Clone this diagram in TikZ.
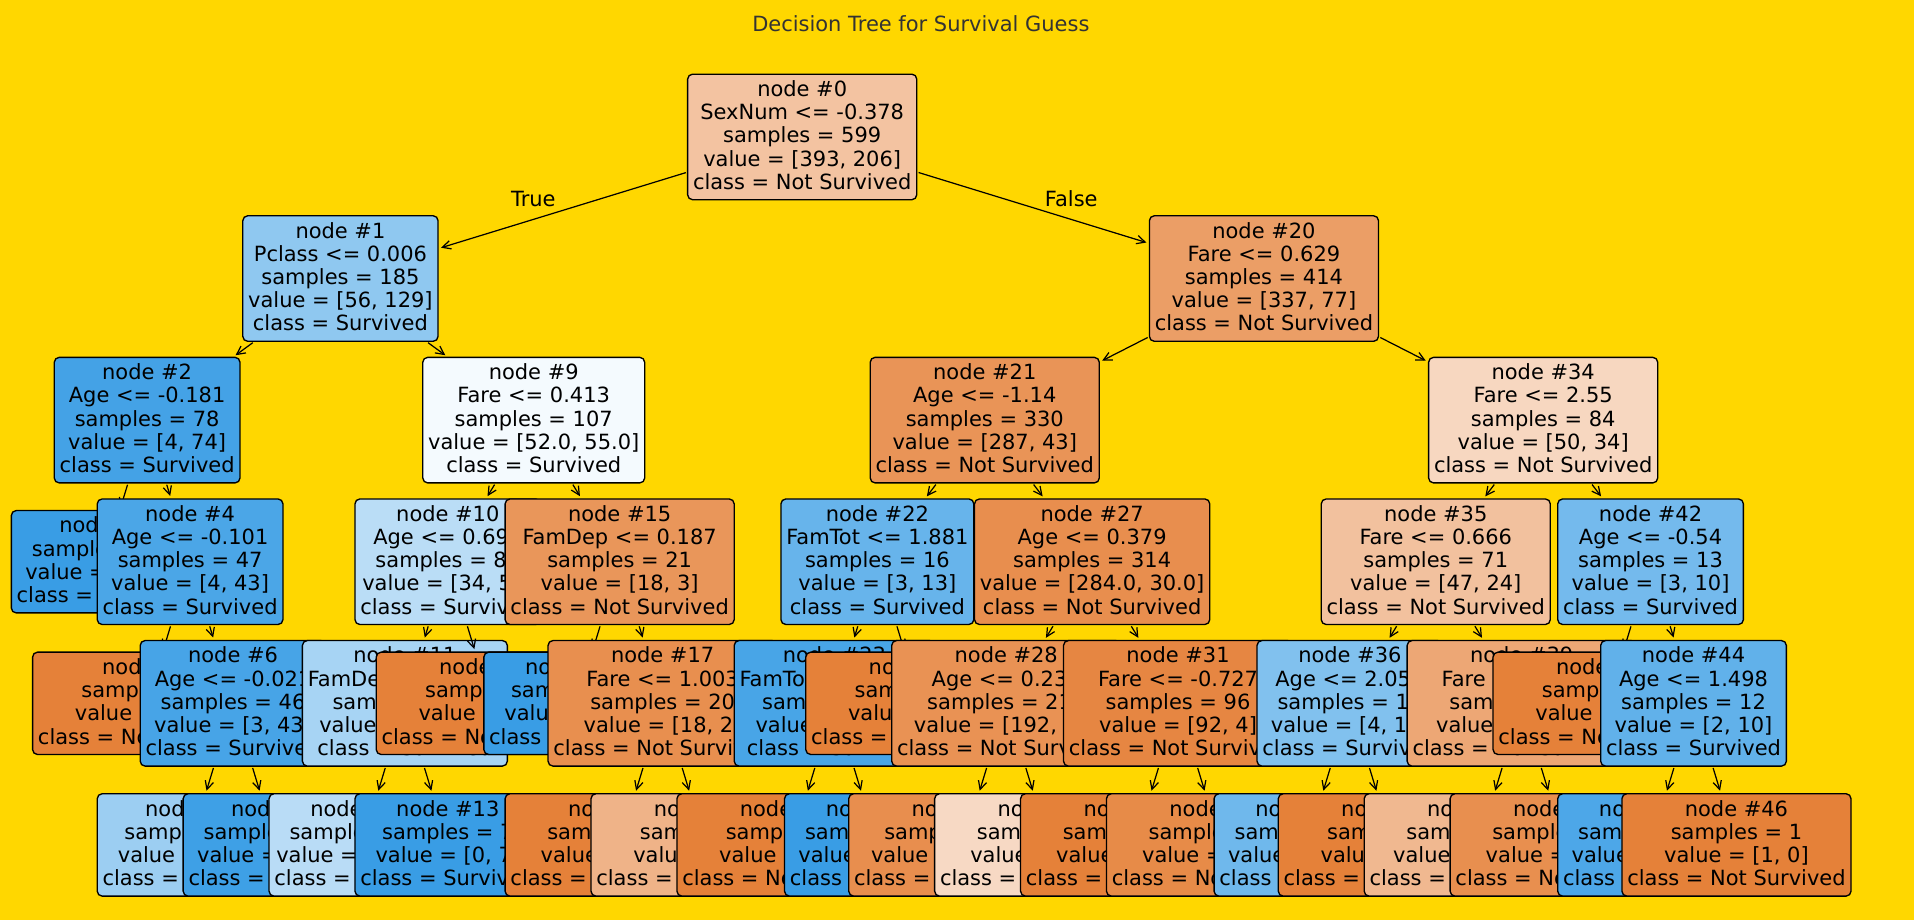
\documentclass[tikz,border=0pt]{standalone}
\usepackage{fontspec}
\setmainfont{DejaVu Sans}
\usepackage{tikz}
\usetikzlibrary{arrows.meta}
\definecolor{nsurv}{RGB}{229,129,57}
\definecolor{surv}{RGB}{57,157,229}
\definecolor{bgcol}{RGB}{255,215,0}
\definecolor{titlecol}{RGB}{51,51,51}
\newcommand{\dpfix}{\rule[-3.3pt]{0pt}{3.3pt}}

\begin{document}
\begin{tikzpicture}[x=70.38pt, y=-116pt,
  tnode/.style={draw=black, line width=1.1pt, rounded corners=4pt, align=center, inner xsep=4.4pt, inner ysep=5.25pt, font=\fontsize{17.17}{19}\selectfont, execute at end node=\dpfix},
  tarrow/.style={-{Straight Barb[length=6.9pt,width=6.9pt]}, line width=1pt, shorten <=1pt, shorten >=2pt},
  lbl/.style={inner sep=0pt, font=\fontsize{17.17}{19}\selectfont}]
\fill[bgcol] (-3.9628,-0.9672) rectangle (18.3166,5.5302);
\useasboundingbox (-3.9628,-0.9672) rectangle (18.3166,5.5302);
\node[lbl, text=titlecol, anchor=base] (title) at (6.756,-0.743) {Decision Tree for Survival Guess};

% root and left branch
\node[tnode, fill=nsurv!47.6] (n0) at (5.375,0) {node \#0\\SexNum <= -0.378\\samples = 599\\value = [393, 206]\\class = Not Survived};
\node[tnode, fill=surv!56.6] (n1) at (0,1) {node \#1\\Pclass <= 0.006\\samples = 185\\value = [56, 129]\\class = Survived};
\draw[tarrow] (n0) -- node[lbl, pos=.619, above=9.5pt] {True} (n1);
\node[tnode, fill=surv!94.6] (n2) at (-2.25,2) {node \#2\\Age <= -0.181\\samples = 78\\value = [4, 74]\\class = Survived};
\draw[tarrow] (n1) -- (n2);
\node[tnode, fill=surv] (n3) at (-2.75,3) {node \#3\\samples = 31\\value = [0, 31]\\class = Survived};
\draw[tarrow] (n2) -- (n3);
\node[tnode, fill=surv!90.7] (n4) at (-1.75,3) {node \#4\\Age <= -0.101\\samples = 47\\value = [4, 43]\\class = Survived};
\draw[tarrow] (n2) -- (n4);
\node[tnode, fill=nsurv] (n5) at (-2.25,4) {node \#5\\samples = 1\\value = [1, 0]\\class = Not Survived};
\draw[tarrow] (n4) -- (n5);
\node[tnode, fill=surv!93] (n6) at (-1.25,4) {node \#6\\Age <= -0.021\\samples = 46\\value = [3, 43]\\class = Survived};
\draw[tarrow] (n4) -- (n6);
\node[tnode, fill=surv!50] (n7) at (-1.75,5) {node \#7\\samples = 6\\value = [2, 4]\\class = Survived};
\draw[tarrow] (n6) -- (n7);
\node[tnode, fill=surv!97.4] (n8) at (-0.75,5) {node \#8\\samples = 40\\value = [1, 39]\\class = Survived};
\draw[tarrow] (n6) -- (n8);
\node[tnode, fill=surv!5.5] (n9) at (2.25,2) {node \#9\\Fare <= 0.413\\samples = 107\\value = [52.0, 55.0]\\class = Survived};
\draw[tarrow] (n1) -- (n9);
\node[tnode, fill=surv!34.6] (n10) at (1.25,3) {node \#10\\Age <= 0.695\\samples = 86\\value = [34, 52]\\class = Survived};
\draw[tarrow] (n9) -- (n10);
\node[tnode, fill=surv!44.2] (n11) at (0.75,4) {node \#11\\FamDep <= 1.214\\samples = 81\\value = [29, 52]\\class = Survived};
\draw[tarrow] (n10) -- (n11);
\node[tnode, fill=surv!35.6] (n12) at (0.25,5) {node \#12\\samples = 74\\value = [29, 45]\\class = Survived};
\draw[tarrow] (n11) -- (n12);
\node[tnode, fill=surv] (n13) at (1.25,5) {node \#13\\samples = 7\\value = [0, 7]\\class = Survived};
\draw[tarrow] (n11) -- (n13);
\node[tnode, fill=nsurv] (n14) at (1.75,4) {node \#14\\samples = 5\\value = [5, 0]\\class = Not Survived};
\draw[tarrow] (n10) -- (n14);
\node[tnode, fill=nsurv!83.3] (n15) at (3.25,3) {node \#15\\FamDep <= 0.187\\samples = 21\\value = [18, 3]\\class = Not Survived};
\draw[tarrow] (n9) -- (n15);
\node[tnode, fill=surv] (n16) at (2.75,4) {node \#16\\samples = 1\\value = [0, 1]\\class = Survived};
\draw[tarrow] (n15) -- (n16);
\node[tnode, fill=nsurv!88.9] (n17) at (3.75,4) {node \#17\\Fare <= 1.003\\samples = 20\\value = [18, 2]\\class = Not Survived};
\draw[tarrow] (n15) -- (n17);
\node[tnode, fill=nsurv] (n18) at (3.25,5) {node \#18\\samples = 13\\value = [13, 0]\\class = Not Survived};
\draw[tarrow] (n17) -- (n18);
\node[tnode, fill=nsurv!60] (n19) at (4.25,5) {node \#19\\samples = 7\\value = [5, 2]\\class = Not Survived};
\draw[tarrow] (n17) -- (n19);

% right branch
\node[tnode, fill=nsurv!77.2] (n20) at (10.75,1) {node \#20\\Fare <= 0.629\\samples = 414\\value = [337, 77]\\class = Not Survived};
\draw[tarrow] (n0) -- node[lbl, pos=.665, above=9.5pt] {False} (n20);
\node[tnode, fill=nsurv!85] (n21) at (7.5,2) {node \#21\\Age <= -1.14\\samples = 330\\value = [287, 43]\\class = Not Survived};
\draw[tarrow] (n20) -- (n21);
\node[tnode, fill=surv!76.9] (n22) at (6.25,3) {node \#22\\FamTot <= 1.881\\samples = 16\\value = [3, 13]\\class = Survived};
\draw[tarrow] (n21) -- (n22);
\node[tnode, fill=surv!92.3] (n23) at (5.75,4) {node \#23\\FamTot <= -0.309\\samples = 14\\value = [1, 13]\\class = Survived};
\draw[tarrow] (n22) -- (n23);
\node[tnode, fill=nsurv] (n24) at (5.25,5) {node \#24\\samples = 1\\value = [1, 0]\\class = Not Survived};
\draw[tarrow] (n23) -- (n24);
\node[tnode, fill=surv] (n25) at (6.25,5) {node \#25\\samples = 13\\value = [0, 13]\\class = Survived};
\draw[tarrow] (n23) -- (n25);
\node[tnode, fill=nsurv] (n26) at (6.75,4) {node \#26\\samples = 2\\value = [2, 0]\\class = Not Survived};
\draw[tarrow] (n22) -- (n26);
\node[tnode, fill=nsurv!89.4] (n27) at (8.75,3) {node \#27\\Age <= 0.379\\samples = 314\\value = [284.0, 30.0]\\class = Not Survived};
\draw[tarrow] (n21) -- (n27);
\node[tnode, fill=nsurv!86.5] (n28) at (7.75,4) {node \#28\\Age <= 0.235\\samples = 218\\value = [192, 26]\\class = Not Survived};
\draw[tarrow] (n27) -- (n28);
\node[tnode, fill=nsurv!89.6] (n29) at (7.25,5) {node \#29\\samples = 201\\value = [182, 19]\\class = Not Survived};
\draw[tarrow] (n28) -- (n29);
\node[tnode, fill=nsurv!30] (n30) at (8.25,5) {node \#30\\samples = 17\\value = [10, 7]\\class = Not Survived};
\draw[tarrow] (n28) -- (n30);
\node[tnode, fill=nsurv!95.7] (n31) at (9.75,4) {node \#31\\Fare <= -0.727\\samples = 96\\value = [92, 4]\\class = Not Survived};
\draw[tarrow] (n27) -- (n31);
\node[tnode, fill=nsurv] (n32) at (9.25,5) {node \#32\\samples = 40\\value = [40, 0]\\class = Not Survived};
\draw[tarrow] (n31) -- (n32);
\node[tnode, fill=nsurv!92.3] (n33) at (10.25,5) {node \#33\\samples = 56\\value = [52, 4]\\class = Not Survived};
\draw[tarrow] (n31) -- (n33);
\node[tnode, fill=nsurv!32] (n34) at (14,2) {node \#34\\Fare <= 2.55\\samples = 84\\value = [50, 34]\\class = Not Survived};
\draw[tarrow] (n20) -- (n34);
\node[tnode, fill=nsurv!48.9] (n35) at (12.75,3) {node \#35\\Fare <= 0.666\\samples = 71\\value = [47, 24]\\class = Not Survived};
\draw[tarrow] (n34) -- (n35);
\node[tnode, fill=surv!63.6] (n36) at (11.75,4) {node \#36\\Age <= 2.054\\samples = 15\\value = [4, 11]\\class = Survived};
\draw[tarrow] (n35) -- (n36);
\node[tnode, fill=surv!72.7] (n37) at (11.25,5) {node \#37\\samples = 14\\value = [3, 11]\\class = Survived};
\draw[tarrow] (n36) -- (n37);
\node[tnode, fill=nsurv] (n38) at (12.25,5) {node \#38\\samples = 1\\value = [1, 0]\\class = Not Survived};
\draw[tarrow] (n36) -- (n38);
\node[tnode, fill=nsurv!69.8] (n39) at (13.75,4) {node \#39\\Fare <= -0.161\\samples = 56\\value = [43, 13]\\class = Not Survived};
\draw[tarrow] (n35) -- (n39);
\node[tnode, fill=nsurv!56] (n40) at (13.25,5) {node \#40\\samples = 36\\value = [25, 11]\\class = Not Survived};
\draw[tarrow] (n39) -- (n40);
\node[tnode, fill=nsurv!88.9] (n41) at (14.25,5) {node \#41\\samples = 20\\value = [18, 2]\\class = Not Survived};
\draw[tarrow] (n39) -- (n41);
\node[tnode, fill=surv!70] (n42) at (15.25,3) {node \#42\\Age <= -0.54\\samples = 13\\value = [3, 10]\\class = Survived};
\draw[tarrow] (n34) -- (n42);
\node[tnode, fill=nsurv] (n43) at (14.75,4) {node \#43\\samples = 1\\value = [1, 0]\\class = Not Survived};
\draw[tarrow] (n42) -- (n43);
\node[tnode, fill=surv!80] (n44) at (15.75,4) {node \#44\\Age <= 1.498\\samples = 12\\value = [2, 10]\\class = Survived};
\draw[tarrow] (n42) -- (n44);
\node[tnode, fill=surv!90] (n45) at (15.25,5) {node \#45\\samples = 11\\value = [1, 10]\\class = Survived};
\draw[tarrow] (n44) -- (n45);
\node[tnode, fill=nsurv] (n46) at (16.25,5) {node \#46\\samples = 1\\value = [1, 0]\\class = Not Survived};
\draw[tarrow] (n44) -- (n46);
\end{tikzpicture}
\end{document}
